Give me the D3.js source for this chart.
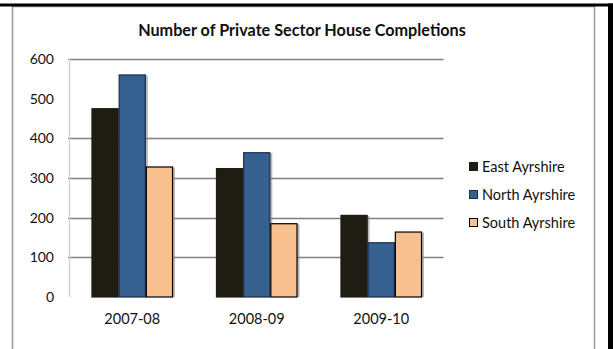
<!DOCTYPE html>
<html><head><meta charset="utf-8">
<script src="https://cdn.jsdelivr.net/npm/d3@7"></script>
<style>body{margin:0;background:#fff}svg{display:block;font-family:Lato,"Open Sans",sans-serif}</style>
</head><body><svg id="c" width="613" height="349"></svg>
<script>
const categories = ["2007-08", "2008-09", "2009-10"];
const seriesNames = ["East Ayrshire", "North Ayrshire", "South Ayrshire"];
const eastAyrshire = [476, 325, 207];
const northAyrshire = [561, 365, 138];
const southAyrshire = [329, 186, 165];
const yTicks = [0, 100, 200, 300, 400, 500, 600];
const gridValues = [100, 200, 300, 400, 600];
const colors = ["#1f1d13", "#35608f", "#f9c08f"];
const strokes = ["#1f1d13", "#1b2f48", "#000"];

const svg = d3.select("#c");
// frame
svg.append("rect").attr("x",12.5).attr("y",6.5).attr("width",582).attr("height",360).attr("fill","none").attr("stroke","#999").attr("stroke-width",1.5);
svg.append("line").attr("x1",0).attr("x2",613).attr("y1",5).attr("y2",5).attr("stroke","#000").attr("stroke-width",3);
svg.append("line").attr("x1",610.5).attr("x2",610.5).attr("y1",3.5).attr("y2",349).attr("stroke","#000").attr("stroke-width",5);

svg.append("text").attr("x",302).attr("y",36).attr("text-anchor","middle").attr("font-size",16.2).attr("font-weight","bold").attr("fill","#111").text("Number of Private Sector House Completions");

const x0 = d3.scaleBand().domain(categories).range([70, 443.5]);
const x1 = d3.scaleBand().domain(seriesNames).range([0, x0.bandwidth()]).paddingOuter(0.79).paddingInner(0);
const y = d3.scaleLinear().domain([0, 600]).range([297, 59]);

svg.append("g").selectAll("line").data(gridValues).join("line")
  .attr("x1", 68).attr("x2", 443.5).attr("y1", d=>Math.round(y(d))+0.5).attr("y2", d=>Math.round(y(d))+0.5)
  .attr("stroke", "#808080").attr("stroke-width", 1.5);
svg.append("line").attr("x1",69.5).attr("x2",69.5).attr("y1",59).attr("y2",297).attr("stroke","#d4d4d4").attr("stroke-width",1.5);

const yAxis = svg.append("g").attr("transform","translate(54,0)").call(d3.axisLeft(y).tickValues(yTicks).tickSize(0).tickPadding(0));
yAxis.select(".domain").remove();
yAxis.selectAll("text").attr("font-size",14).attr("fill","#111").attr("font-family","Lato,sans-serif");

const data = [eastAyrshire, northAyrshire, southAyrshire];
const gBars = svg.append("g");
categories.forEach((c, ci) => {
  seriesNames.forEach((s, si) => {
    const v = data[si][ci];
    const bx = x0(c) + x1(s);
    gBars.append("rect").attr("x", bx + 2).attr("y", y(v) + 1).attr("width", x1.bandwidth()).attr("height", y(0) - y(v) - 1).attr("fill", "#8a8a8a").attr("opacity",0.6);
    gBars.append("rect").attr("x", bx + 0.5).attr("y", y(v) + 0.5).attr("width", x1.bandwidth() - 1).attr("height", y(0) - y(v) - 0.5)
      .attr("fill", colors[si]).attr("stroke", strokes[si]).attr("stroke-width", 1.2);
  });
});

const xAxis = svg.append("g").attr("transform","translate(0,314)").call(d3.axisBottom(x0).tickSize(0).tickPadding(0));
xAxis.select(".domain").remove();
xAxis.selectAll("text").attr("font-size",14.5).attr("fill","#111").attr("font-family","Lato,sans-serif");

const leg = svg.append("g");
seriesNames.forEach((s, i) => {
  const cy = 167 + i * 28;
  leg.append("rect").attr("x", 469.5).attr("y", cy - 4.5).attr("width", 8).attr("height", 8).attr("fill", colors[i]).attr("stroke", strokes[i]);
  leg.append("text").attr("x", 482).attr("y", cy + 5).attr("font-size", 14.5).attr("fill","#111").text(s);
});
</script></body></html>
